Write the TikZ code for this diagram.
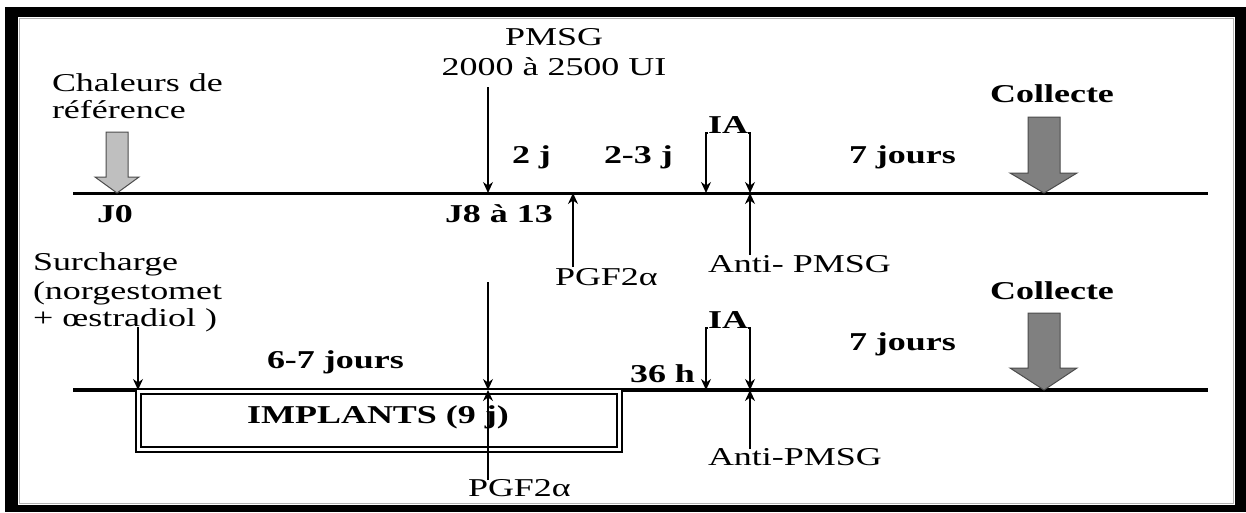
\documentclass[tikz,border=0pt]{standalone}
\usepackage{fontspec}
\setmainfont[FakeStretch=1.4]{Liberation Serif}
\usetikzlibrary{arrows.meta}
\begin{document}
\begin{tikzpicture}[x=1pt,y=-1pt,
  txt/.style={inner sep=0pt, outer sep=0pt, anchor=base west, font=\fontsize{25.7}{28}\selectfont},
  btxt/.style={txt, font=\fontsize{25.7}{28}\selectfont\bfseries},
  arr/.style={-{Stealth[length=11pt,width=10pt]}, line width=1.3pt},
  tline/.style={line width=3pt},
  blockarrow/.style={line width=1pt, draw=black!70},
]
\useasboundingbox (0,0) rectangle (1246,512);
% frame
\fill[black] (5,7) rectangle (1246,512);
\fill[white] (18,17) rectangle (1235,505);
\draw[gray!60, line width=1pt] (19.5,18.5) rectangle (1233.5,503.5);

% timelines
\coordinate (L1a) at (73,193); \coordinate (L1b) at (1208,193);
\coordinate (L2a) at (73,390); \coordinate (L2b) at (1208,390);
\draw[tline] (L1a) -- (L1b);
\draw[tline, line width=4pt] (L2a) -- (L2b);

% ---------- top protocol ----------
\node[txt] (chal1) at (52,91) {Chaleurs de};
\node[txt] (chal2) at (52,118) {référence};
\fill[black!25, blockarrow] (106,132) -- (128,132) -- (128,177) -- (139,177) -- (117,193) -- (95,177) -- (106,177) -- cycle;
\node[btxt] (j0) at (97,222) {J0};

\node[txt, anchor=base] (pmsg1) at (554,45) {PMSG};
\node[txt, anchor=base] (pmsg2) at (554,75) {2000 à 2500 UI};
\coordinate (a1s) at (488,87); \coordinate (a1e) at (488,193);
\draw[arr] (a1s) -- (a1e);
\node[btxt] (j8) at (445,222) {J8 à 13};
\node[btxt] (deuxj) at (512,163) {2 j};
\node[btxt] (troisj) at (604,163) {2-3 j};

\coordinate (pgf1s) at (573,267); \coordinate (pgf1e) at (573,193);
\draw[arr] (pgf1s) -- (pgf1e);
\node[txt] (pgf1) at (555,285) {PGF2α};

\node[btxt] (ia1) at (708,133) {IA};
\coordinate (ia1l) at (706,193); \coordinate (ia1r) at (750,193);
\draw[arr] (ia1.base west) -| (ia1l);
\draw[arr] (ia1.base east) -| (ia1r);

\coordinate (anti1s) at (750,255);
\draw[arr] (anti1s) -- (ia1r);
\node[txt] (anti1) at (708,272) {Anti- PMSG};

\node[btxt] (sept1) at (849,163) {7 jours};
\node[btxt, anchor=base] (coll1) at (1052,102) {Collecte};
\fill[black!50, blockarrow] (1028,117) -- (1060,117) -- (1060,173) -- (1077,173) -- (1044,193) -- (1010,173) -- (1028,173) -- cycle;

% ---------- bottom protocol ----------
\node[txt] (sur1) at (33,270) {Surcharge};
\node[txt] (sur2) at (33,299) {(norgestomet};
\node[txt] (sur3) at (33,326) {+ œstradiol )};
\coordinate (surs) at (138,327); \coordinate (sure) at (138,390);
\draw[arr] (surs) -- (sure);

\node[btxt] (sixj) at (267,368) {6-7 jours};
\node[draw, double, double distance=3.5pt, line width=1.5pt, minimum width=481pt, minimum height=58pt, inner sep=0pt] (impl) at (379,420.5) {};
\node[btxt, anchor=base] (impltxt) at (378,423) {IMPLANTS (9 j)};

\coordinate (a2s) at (488,282); \coordinate (a2e) at (488,390);
\draw[arr] (a2s) -- (a2e);
\coordinate (pgf2s) at (488,480);
\draw[arr] (pgf2s) -- (a2e);
\node[txt] (pgf2) at (468,496) {PGF2α};

\node[btxt] (h36) at (630,382) {36 h};
\node[btxt] (ia2) at (708,328) {IA};
\coordinate (ia2l) at (706,390); \coordinate (ia2r) at (750,390);
\draw[arr] (ia2.base west) -| (ia2l);
\draw[arr] (ia2.base east) -| (ia2r);
\coordinate (anti2s) at (750,449);
\draw[arr] (anti2s) -- (ia2r);
\node[txt] (anti2) at (708,465) {Anti-PMSG};

\node[btxt] (sept2) at (849,350) {7 jours};
\node[btxt, anchor=base] (coll2) at (1052,299) {Collecte};
\fill[black!50, blockarrow] (1028,313) -- (1060,313) -- (1060,368) -- (1077,368) -- (1044,390) -- (1010,368) -- (1028,368) -- cycle;
\end{tikzpicture}
\end{document}
